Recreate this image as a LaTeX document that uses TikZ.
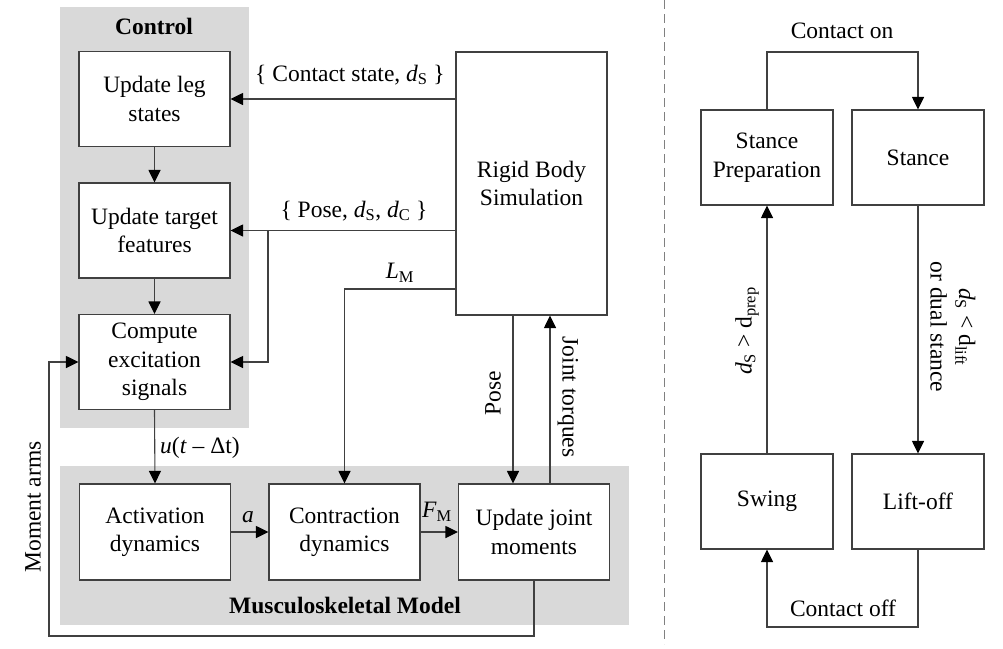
\documentclass[tikz,border=0pt]{standalone}
\usepackage{fontspec}
\setmainfont{Liberation Serif}
\usetikzlibrary{arrows.meta,calc}
\begin{document}
\begin{tikzpicture}[x=1pt,y=-1pt,
  every node/.style={font=\fontsize{23.5}{28.5}\selectfont},
  box/.style={draw=black!75,line width=1.1pt,fill=white,align=center,inner sep=0pt,minimum width=151pt,minimum height=95pt},
  sbox/.style={box,minimum width=132pt},
  arr/.style={draw=black!75,line width=1.1pt,-{Triangle[length=12.5pt,width=12pt,color=black]}},
  ln/.style={draw=black!75,line width=1.1pt},
  bg/.style={fill=black!15,draw=none},
  lbl/.style={inner sep=1pt}
]
\useasboundingbox (0,0) rectangle (1003,648);
% backgrounds
\fill[bg] (60,7) rectangle (249,428);
\fill[bg] (60,466) rectangle (629,625);
\node[font=\fontsize{23.5}{28.5}\selectfont\bfseries] (ctl) at (154,26) {Control};
\node[font=\fontsize{23.5}{28.5}\selectfont\bfseries] (msk) at (345,605) {Musculoskeletal Model};
% boxes
\node[box] (leg) at (154.5,99) {Update leg\\states};
\node[box] (target) at (154.5,230.5) {Update target\\features};
\node[box] (compute) at (154.5,362) {Compute\\excitation\\signals};
\node[box,minimum height=263pt] (rigid) at (531.5,183.5) {Rigid Body\\Simulation};
\node[box,minimum height=96pt] (act) at (155,532) {Activation\\dynamics};
\node[box,minimum height=96pt] (contr) at (344.5,532) {Contraction\\dynamics};
\node[box,minimum height=96pt] (joint) at (534,532) {Update joint\\moments};
% connectors
\draw[arr] (rigid.west |- leg.east) -- (leg.east);
\draw[arr] (rigid.west |- target.east) -- (target.east);
\coordinate (br) at (268,231);
\draw[arr] (br) |- (compute.east);
\coordinate (lm) at (456,289);
\draw[arr] (lm) -| (contr.north);
\draw[arr] (leg.south) -- (target.north);
\draw[arr] (target.south) -- (compute.north);
\draw[arr] (compute.south) -- (act.north);
\draw[arr] (act.east) -- (contr.west);
\draw[arr] (contr.east) -- (joint.west);
\draw[arr] ([xshift=-18.5pt]rigid.south) -- ([xshift=-18.5pt]rigid.south |- joint.north);
\draw[arr] ([xshift=16pt]joint.north) -- ([xshift=16pt]joint.north |- rigid.south);
\coordinate (fb) at (49,636);
\draw[arr] (joint.south) |- (fb) |- (compute.west);
% labels
\node[lbl] (l1) at (350,75) {\{ Contact state, \textit{d}\textsubscript{S} \}};
\node[lbl] (l2) at (354,211) {\{ Pose, \textit{d}\textsubscript{S}, \textit{d}\textsubscript{C} \}};
\node[lbl] (l3) at (400,273) {\textit{L}\textsubscript{M}};
\node[lbl] (l4) at (200,448) {\textit{u}(\textit{t} – Δt)};
\node[lbl] (l5) at (248,517) {\textit{a}};
\node[lbl] (l6) at (437,512) {\textit{F}\textsubscript{M}};
\node[lbl,rotate=90] (l7) at (493,393) {Pose};
\node[lbl,rotate=-90] (l8) at (568,397) {Joint torques};
\node[lbl,rotate=90] (l9) at (33,507) {Moment arms};
% separator
\draw[gray,line width=1pt,dash pattern=on 9pt off 5pt] (664,0) -- (664,644);
% state machine
\node[sbox] (prep) at (767,157.5) {Stance\\Preparation};
\node[sbox] (stance) at (918,157.5) {Stance};
\node[sbox] (swing) at (767,501.5) {Swing};
\node[sbox] (lift) at (918,501.5) {Lift-off};
\coordinate (con) at (767,52);
\draw[arr] (prep.north) -- (con) -| (stance.north);
\draw[arr] (stance.south) -- (lift.north);
\coordinate (coff) at (918,627);
\draw[arr] (lift.south) -- (coff) -| (swing.south);
\draw[arr] (swing.north) -- (prep.south);
\node[lbl] (r1) at (842,31) {Contact on};
\node[lbl] (r2) at (843,608) {Contact off};
\node[lbl,rotate=90] (r3) at (747,331) {\textit{d}\textsubscript{S} > d\textsubscript{prep}};
\node[lbl,rotate=-90,align=center] (r4) at (953,327) {\textit{d}\textsubscript{S} < d\textsubscript{lift}\\or dual stance};
\end{tikzpicture}
\end{document}
